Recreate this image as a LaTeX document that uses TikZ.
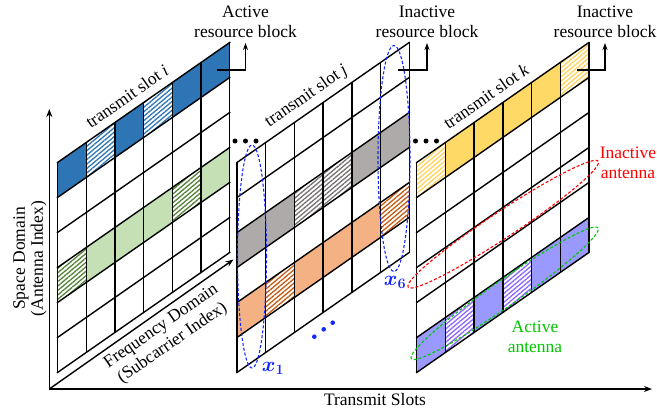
\documentclass[tikz,border=0pt]{standalone}
\usepackage{fontspec}
\setmainfont{Liberation Serif}
\usepackage{bm}
\usetikzlibrary{patterns.meta,shapes.geometric,arrows.meta}
\definecolor{cblue}{RGB}{46,117,182}
\definecolor{cgreen}{RGB}{197,224,180}
\definecolor{hgreen}{RGB}{84,130,53}
\definecolor{cgray}{RGB}{174,170,170}
\definecolor{hgray}{RGB}{118,113,113}
\definecolor{corange}{RGB}{244,177,131}
\definecolor{horange}{RGB}{197,90,17}
\definecolor{cyellow}{RGB}{255,217,102}
\definecolor{hyellow}{RGB}{255,210,90}
\definecolor{cpurple}{RGB}{153,153,255}
\definecolor{hpurple}{RGB}{140,100,255}
\definecolor{dblue}{RGB}{20,40,255}
\definecolor{dred}{RGB}{255,0,0}
\definecolor{dgreen}{RGB}{0,200,0}
\def\gcw{28.7}
\def\gcs{20}
\def\gch{35}
\def\gtop{162.5}
\newcommand\rbcell[4]{%
  \fill[#4] ({#1+#2*\gcw},{\gtop-#2*\gcs+#3*\gch}) -- ++(\gcw,-\gcs) -- ++(0,\gch) -- ++(-\gcw,\gcs) -- cycle;}
\newcommand\rbgrid[1]{%
  \foreach \c in {0,...,6} {\draw[gridline] ({#1+\c*\gcw},{\gtop-\c*\gcs}) -- ++(0,6*\gch);}
  \foreach \r in {0,...,6} {\draw[gridline] ({#1},{\gtop+\r*\gch}) -- ++(6*\gcw,-6*\gcs);}}
\begin{document}
\begin{tikzpicture}[x=1pt,y=-1pt,
  every node/.style={font=\fontsize{17.5}{20}\selectfont},
  gridline/.style={line width=1.4pt,line cap=rect},
  hatch/.style={pattern={Lines[angle=40,distance=3.4pt,line width=1.3pt]},pattern color=#1},
  axis/.style={line width=1.4pt,-{Stealth[length=8pt,width=6pt]}},
  callout/.style={line width=1.2pt,-{Stealth[length=7pt,width=5pt]},shorten >=5pt},
  lbl/.style={align=center,inner sep=0pt},
  dashell/.style={ellipse,draw=#1,dashed,dash pattern=on 3pt off 2pt,line width=1.1pt,inner sep=0pt},
  bdot/.style={circle,fill=#1,inner sep=0pt,minimum size=5pt},
  xlbl/.style={text=dblue,inner sep=0pt,font=\fontsize{20}{22}\selectfont}]
\useasboundingbox (0,0) rectangle (657,410);
\fill[white] (0,0) rectangle (657,410);
% ---- left grid (slot i)
\def\xa{57.5}
\foreach \c/\s in {0/cblue,2/cblue,4/cblue,5/cblue} {\rbcell{\xa}{\c}{0}{\s}}
\foreach \c in {1,3} {\rbcell{\xa}{\c}{0}{hatch=cblue}}
\foreach \c in {1,2,3,5} {\rbcell{\xa}{\c}{3}{cgreen}}
\foreach \c in {0,4} {\rbcell{\xa}{\c}{3}{hatch=hgreen}}
\rbgrid{\xa}
% ---- middle grid (slot j)
\def\xb{237}
\foreach \c in {0,1,4,5} {\rbcell{\xb}{\c}{2}{cgray}}
\foreach \c in {2,3} {\rbcell{\xb}{\c}{2}{hatch=hgray}}
\foreach \c in {0,2,3,4} {\rbcell{\xb}{\c}{4}{corange}}
\foreach \c in {1,5} {\rbcell{\xb}{\c}{4}{hatch=horange}}
\rbgrid{\xb}
% ---- right grid (slot k)
\def\xc{416.7}
\foreach \c in {1,2,3,4} {\rbcell{\xc}{\c}{0}{cyellow}}
\foreach \c in {0,5} {\rbcell{\xc}{\c}{0}{hatch=hyellow}}
\foreach \c in {0,2,4,5} {\rbcell{\xc}{\c}{5}{cpurple}}
\foreach \c in {1,3} {\rbcell{\xc}{\c}{5}{hatch=hpurple}}
\rbgrid{\xc}
% ---- axes
\coordinate (O) at (49.3,389);
\coordinate (ytip) at (49.3,109);
\coordinate (xtip) at (652,389);
\coordinate (ftip) at (233.5,259.5);
\draw[axis] (O) -- (ytip);
\draw[axis] (O) -- (xtip);
\draw[axis] (O) -- (ftip);
\node (ts) at (375,400) {Transmit Slots};
\node[lbl,rotate=90,font=\fontsize{17.5}{18}\selectfont] (sd) at (30,258.5) {Space Domain\\(Antenna Index)};
\node[lbl,rotate=34.8] (fd) at (167,335) {Frequency Domain\\(Subcarrier Index)};
% ---- slot titles
\node[rotate=34.8,inner sep=0pt] (ti) at (127,96.5) {transmit slot \textit{i}};
\node[rotate=34.8,inner sep=0pt] (tj) at (306.5,96.5) {transmit slot \textit{j}};
\node[rotate=34.8,inner sep=0pt] (tk) at (486,96.5) {transmit slot \textit{k}};
% ---- callouts
\node[lbl,anchor=south] (la1) at (245.5,38) {Active\\resource block};
\node[lbl,anchor=south] (la2) at (427,38) {Inactive\\resource block};
\node[lbl,anchor=south] (la3) at (605,38) {Inactive\\resource block};
\coordinate (ca1) at (217,70);
\coordinate (ca2) at (398,70);
\coordinate (ca3) at (577,70);
\draw[callout] (ca1) -| (la1.south);
\draw[callout] (ca2) -| (la2.south);
\draw[callout] (ca3) -| (la3.south);
% ---- dots
\node[bdot=black] (k1) at (235,141) {};
\node[bdot=black] (k2) at (245.5,141) {};
\node[bdot=black] (k3) at (256,141) {};
\node[bdot=black] (k4) at (415.5,141) {};
\node[bdot=black] (k5) at (426,141) {};
\node[bdot=black] (k6) at (436.5,141) {};
\node[bdot=dblue,minimum size=4.6pt] (b1) at (314.3,336.7) {};
\node[bdot=dblue,minimum size=4.6pt] (b2) at (323.7,329.3) {};
\node[bdot=dblue,minimum size=4.6pt] (b3) at (332.7,322.7) {};
% ---- ellipses
\node[dashell=dblue,minimum width=29pt,minimum height=223pt] (e1) at (252,256.5) {};
\node[dashell=dblue,minimum width=32pt,minimum height=226pt] (e6) at (394,158.5) {};
\node[xlbl] (x1) at (273,368) {$\bm{x}_{\bm{1}}$};
\node[xlbl] (x6) at (395,282) {$\bm{x}_{\bm{6}}$};
\node[dashell=dred,rotate=33.5,minimum width=228pt,minimum height=26pt] (er) at (503.3,224.2) {};
\node[dashell=dgreen,rotate=35,minimum width=228pt,minimum height=26pt] (eg) at (504.7,293.3) {};
\node[lbl,text=dred] (tr) at (628,163) {Inactive\\antenna};
\node[lbl,text=dgreen] (tg) at (535,337) {Active\\antenna};
\end{tikzpicture}
\end{document}
